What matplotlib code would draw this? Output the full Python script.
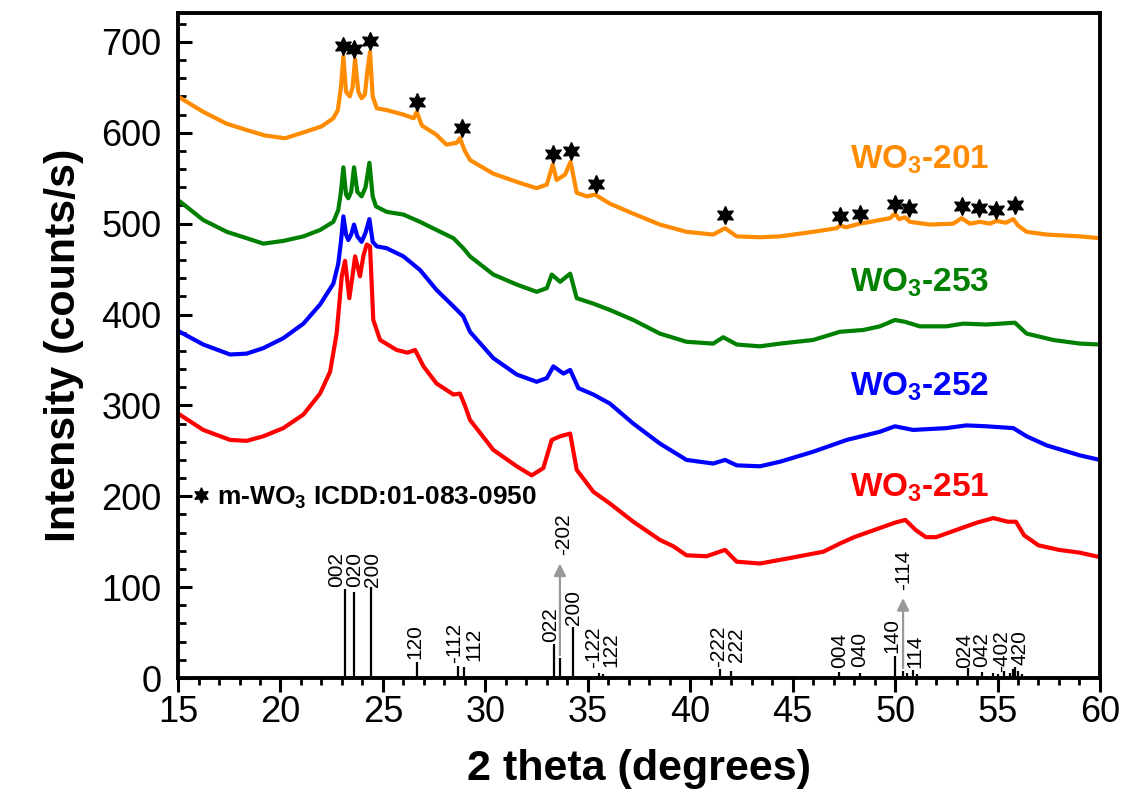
import matplotlib
matplotlib.use("Agg")
import matplotlib.pyplot as plt
from matplotlib.ticker import MultipleLocator

plt.rcParams['font.family'] = ['Liberation Sans', 'DejaVu Sans']
plt.rcParams['mathtext.fontset'] = 'custom'
plt.rcParams['mathtext.rm'] = 'Liberation Sans'
plt.rcParams['mathtext.bf'] = 'Liberation Sans:bold'

# --- XRD patterns (2theta, intensity) ---
x_201 = [15.0, 15.5, 16.23, 17.37, 18.35, 19.25, 20.22, 21.2, 22.0, 22.58, 22.8, 22.95, 23.07,
         23.2, 23.38, 23.52, 23.64, 23.8, 23.96, 24.12, 24.25, 24.37, 24.5, 24.7, 25.18, 26.0,
         26.5, 26.65, 26.9, 27.6, 28.1, 28.6, 28.76, 29.0, 29.25, 30.39, 31.53, 32.5, 33.0,
         33.29, 33.48, 33.89, 34.16, 34.46, 34.95, 35.35, 36.08, 37.22, 38.52, 39.82, 41.12,
         41.7, 42.27, 43.4, 44.38, 46.0, 47.15, 47.31, 47.6, 48.28, 48.8, 49.26, 49.75, 49.99,
         50.2, 50.48, 50.72, 51.7, 52.84, 53.25, 53.65, 54.14, 54.63, 54.96, 55.4, 55.77, 56.0,
         56.42, 57.4, 59.02, 60.0]
y_201 = [640, 633, 623, 610, 603, 597, 594, 601, 607, 616, 625, 650, 684,
         645, 640, 650, 681, 645, 638, 642, 670, 689, 640, 627, 625, 620,
         616, 623, 608, 598, 587, 589, 594, 580, 570, 555, 546, 539, 543,
         565, 548, 554, 568, 534, 530, 532, 522, 511, 499, 491, 488,
         495, 486, 485, 486, 491, 495, 498, 496, 500, 502, 504, 506, 511,
         505, 507, 502, 499, 500, 506, 500, 502, 500, 503, 501, 505, 498,
         491, 488, 486, 484]

x_253 = [15.0, 16.23, 17.38, 18.35, 19.16, 20.14, 21.12, 21.93, 22.58, 22.82, 22.95, 23.07,
         23.2, 23.31, 23.45, 23.59, 23.75, 23.96, 24.15, 24.34, 24.5, 24.66, 25.18, 26.0,
         26.81, 27.62, 28.44, 28.92, 29.25, 30.39, 31.53, 32.5, 33.0, 33.24, 33.65, 34.14,
         34.46, 35.27, 36.08, 37.22, 38.52, 39.82, 41.12, 41.61, 42.27, 43.4, 44.38, 46.0,
         47.31, 48.45, 49.26, 49.99, 50.48, 51.2, 52.5, 53.33, 54.46, 55.85, 56.42, 57.72,
         59.02, 60.0]
y_253 = [526, 504, 491, 484, 478, 481, 486, 493, 502, 515, 535, 562,
         532, 528, 535, 562, 535, 530, 540, 567, 530, 519, 513, 510,
         502, 493, 484, 473, 464, 444, 433, 425, 429, 444, 436, 445,
         418, 412, 405, 394, 379, 370, 368, 375, 367, 365, 368, 372,
         381, 383, 387, 394, 392, 387, 387, 390, 389, 391, 379, 372,
         368, 367]

x_252 = [15.0, 16.23, 17.54, 18.35, 19.16, 20.14, 21.12, 21.93, 22.58, 22.82, 22.95, 23.07,
         23.2, 23.31, 23.45, 23.59, 23.75, 23.96, 24.15, 24.34, 24.5, 24.7, 25.18, 26.0,
         26.81, 27.62, 28.44, 28.92, 29.25, 30.39, 31.53, 32.5, 33.0, 33.32, 33.81, 34.14,
         34.54, 35.27, 36.08, 37.22, 38.52, 39.82, 41.12, 41.7, 42.27, 43.4, 44.38, 46.0,
         47.64, 49.26, 49.99, 50.88, 52.5, 53.48, 54.46, 55.77, 56.42, 57.4, 59.02, 60.0]
y_252 = [382, 367, 356, 357, 363, 374, 390, 411, 434, 456, 480, 508,
         488, 482, 488, 499, 486, 480, 490, 505, 480, 475, 473, 464,
         449, 427, 409, 398, 381, 352, 334, 326, 330, 343, 335, 339,
         319, 312, 302, 280, 258, 240, 236, 240, 234, 233, 238, 249,
         262, 271, 277, 273, 275, 278, 277, 275, 266, 256, 245, 240]

x_251 = [15.0, 16.23, 17.54, 18.35, 19.16, 20.14, 21.12, 21.93, 22.42, 22.74, 22.99, 23.15,
         23.36, 23.5, 23.64, 23.88, 24.05, 24.21, 24.37, 24.53, 24.86, 25.67, 26.2, 26.57,
         26.98, 27.62, 28.44, 28.76, 29.0, 29.25, 30.39, 31.53, 32.26, 32.83, 33.24, 33.65,
         34.14, 34.46, 35.27, 36.08, 37.22, 38.52, 39.17, 39.82, 40.8, 41.7, 42.27, 43.4,
         44.87, 46.5, 47.31, 48.0, 49.0, 50.0, 50.5, 51.0, 51.5, 52.0, 53.0, 54.0, 54.8,
         55.5, 55.9, 56.3, 57.0, 58.0, 59.0, 60.0]
y_251 = [291, 273, 262, 261, 266, 275, 290, 313, 337, 379, 442, 459,
         418, 440, 464, 442, 465, 477, 475, 394, 372, 361, 358, 361,
         343, 324, 312, 313, 300, 284, 251, 233, 223, 231, 262, 266,
         269, 229, 205, 192, 172, 152, 145, 135, 134, 141, 128, 126,
         132, 139, 148, 155, 163, 171, 174, 163, 155, 155, 163, 171, 176,
         172, 172, 157, 146, 141, 138, 133]

series_names = ['WO$_\\mathbf{3}$-201', 'WO$_\\mathbf{3}$-253', 'WO$_\\mathbf{3}$-252', 'WO$_\\mathbf{3}$-251']
series_colors = ['#ff8c00', '#008000', '#0000ff', '#ff0000']
name_pos = [(51.2, 570), (51.2, 435), (51.2, 321), (51.2, 210)]

# stars marking m-WO3 reflections on WO3-201
star_x = [23.07, 23.6, 24.37, 26.65, 28.84, 33.3, 34.2, 35.4, 41.7, 47.3, 48.3, 50.0, 50.7,
          53.25, 54.1, 54.95, 55.85]
star_y = [696, 692, 701, 634, 605, 577, 580, 544, 510, 508, 511, 522, 517, 519, 517, 515, 520]

# ICDD 01-083-0950 stick pattern
ref_pos = [23.13, 23.60, 24.40, 26.68, 28.68, 28.96, 33.37, 33.64, 34.28, 35.56, 35.76,
           41.45, 41.97, 47.27, 48.28, 49.99, 50.39, 50.88, 53.57, 54.22, 55.30, 55.87]
ref_int = [98, 95, 100, 18, 13, 12, 37, 22, 56, 5, 4, 10, 8, 7, 5, 24, 8, 9, 11, 7, 8, 12]
ref_hkl = ['002', '020', '200', '120', '-112', '112', '022', '-202', '200', '-122', '122',
           '-222', '222', '004', '040', '140', '-114', '114', '024', '042', '-402', '420']
label_x = [22.74, 23.60, 24.50, 26.57, 28.50, 29.42, 33.20, 33.80, 34.30, 35.30, 36.12,
           41.37, 42.26, 47.31, 48.28, 49.83, 50.40, 50.95, 53.40, 54.22, 55.19, 56.10]
label_y = [100, 100, 100, 21, 17, 19, 40, 135, 58, 11, 12, 12, 18, 11, 12, 27, 97, 11, 11, 12, 7, 14]
# strong lines that go off scale (arrow tip)
arrow_hkl = ['-202', '-114']
arrow_top = [129, 91]
# weak unlabeled lines
weak_pos = [44.3, 44.7, 45.1, 45.6, 50.6, 51.05, 54.8, 55.0, 55.6, 55.75, 56.0, 56.2]
weak_int = [2, 2, 2, 2, 6, 4, 5, 4, 6, 10, 8, 4]

fig = plt.figure(figsize=(11.27, 8.02), dpi=100)
ax = fig.add_axes([0.158, 0.1546, 0.818, 0.8294])

for xs, ys, c in zip([x_201, x_253, x_252, x_251], [y_201, y_253, y_252, y_251], series_colors):
    ax.plot(xs, ys, color=c, lw=3, solid_joinstyle='round')

for name, c, (tx, ty) in zip(series_names, series_colors, name_pos):
    ax.text(tx, ty, name, color=c, fontsize=24, fontweight='bold', ha='center', va='center')

ax.plot(star_x, star_y, ls='none', marker=(6, 1, 0), ms=13, color='black',
        label='m-WO$_\\mathbf{3}$ ICDD:01-083-0950')

ax.vlines(ref_pos, 0, ref_int, color='black', lw=1.6)
ax.vlines(weak_pos, 0, weak_int, color='black', lw=1.6)
for px, h, lab, lx, ly in zip(ref_pos, ref_int, ref_hkl, label_x, label_y):
    ax.text(lx, ly, lab, rotation=90, ha='center', va='bottom', fontsize=15)
    if lab in arrow_hkl:
        top = arrow_top[arrow_hkl.index(lab)]
        ax.annotate('', xy=(px, top), xytext=(px, h),
                    arrowprops=dict(arrowstyle='-|>', color='#999999', lw=1.6, mutation_scale=18))

leg = ax.legend(loc='center left', bbox_to_anchor=(0.005, 0.271), frameon=False,
                handlelength=0.6, handletextpad=0.3, borderaxespad=0, markerscale=0.85,
                prop={'size': 19, 'weight': 'bold'})

ax.set_xlim(15, 60)
ax.set_ylim(0, 732)
ax.xaxis.set_major_locator(MultipleLocator(5))
ax.xaxis.set_minor_locator(MultipleLocator(1))
ax.yaxis.set_major_locator(MultipleLocator(100))
ax.yaxis.set_minor_locator(MultipleLocator(20))
ax.tick_params(axis='x', which='major', direction='out', length=10, width=2.2, labelsize=26, pad=2)
ax.tick_params(axis='x', which='minor', direction='out', length=5, width=2)
ax.tick_params(axis='y', which='major', direction='in', length=10, width=2.2, labelsize=26, pad=12)
ax.tick_params(axis='y', which='minor', direction='in', length=6, width=2)
for sp in ax.spines.values():
    sp.set_linewidth(2.8)

ax.set_xlabel('2 theta (degrees)', fontsize=31, fontweight='bold', labelpad=14)
ax.set_ylabel('Intensity (counts/s)', fontsize=31, fontweight='bold', labelpad=12)

fig.savefig('out.png', dpi=100)
